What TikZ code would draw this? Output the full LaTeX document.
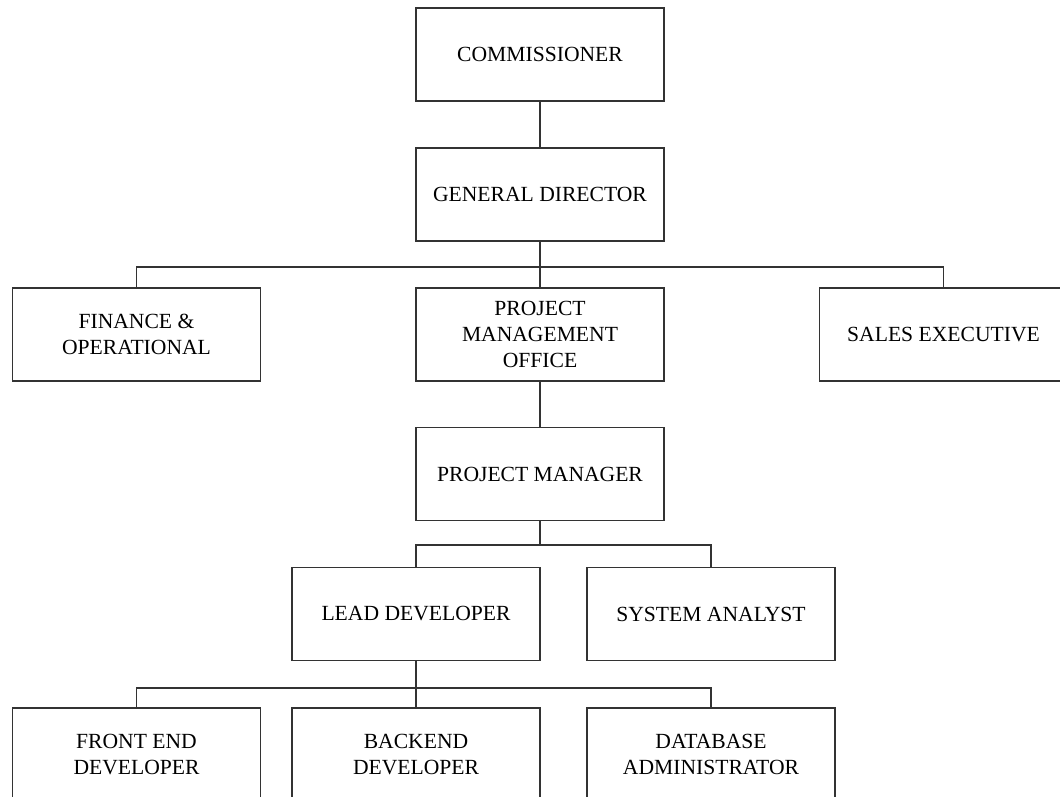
\documentclass[tikz,border=0pt]{standalone}
\usepackage{fontspec}
\setmainfont{Liberation Serif}
\begin{document}
\begin{tikzpicture}[x=0.75pt,y=-0.75pt,
  box/.style={draw=black!80,line width=1.1pt,fill=white,rectangle,inner sep=0pt,
    minimum width=186pt,minimum height=70pt,align=center,
    font=\fontsize{16.2}{19.5}\selectfont},
  link/.style={draw=black!80,line width=1.1pt}]
\useasboundingbox (0,0) rectangle (1060,796);
\clip (0,0) rectangle (1060,796);
\node[box] (comm)  at (540,54.5)  {COMMISSIONER};
\node[box] (gd)    at (540,194.5) {GENERAL DIRECTOR};
\node[box] (fin)   at (136.5,334.5) {FINANCE \&\\OPERATIONAL};
\node[box] (pmo)   at (540,334.5) {PROJECT\\MANAGEMENT\\OFFICE};
\node[box] (sales) at (943.5,334.5) {SALES EXECUTIVE};
\node[box] (pm)    at (540,474)   {PROJECT MANAGER};
\node[box] (lead)  at (416,614)   {LEAD DEVELOPER};
\node[box] (sa)    at (711,614)   {SYSTEM ANALYST};
\node[box] (fe)    at (136.5,754.5) {FRONT END\\DEVELOPER};
\node[box] (back)  at (416,754.5) {BACKEND\\DEVELOPER};
\node[box] (db)    at (711,754.5) {DATABASE\\ADMINISTRATOR};
\coordinate (b1) at (540,267);
\coordinate (b2) at (540,545);
\coordinate (b3) at (416,688);
\draw[link] (comm.south) -- (gd.north);
\draw[link] (gd.south) -- (pmo.north);
\draw[link] (fin.north) |- (b1) -| (sales.north);
\draw[link] (pmo.south) -- (pm.north);
\draw[link] (pm.south) -- (b2);
\draw[link] (lead.north) |- (b2) -| (sa.north);
\draw[link] (lead.south) -- (back.north);
\draw[link] (fe.north) |- (b3) -| (db.north);
\end{tikzpicture}
\end{document}
